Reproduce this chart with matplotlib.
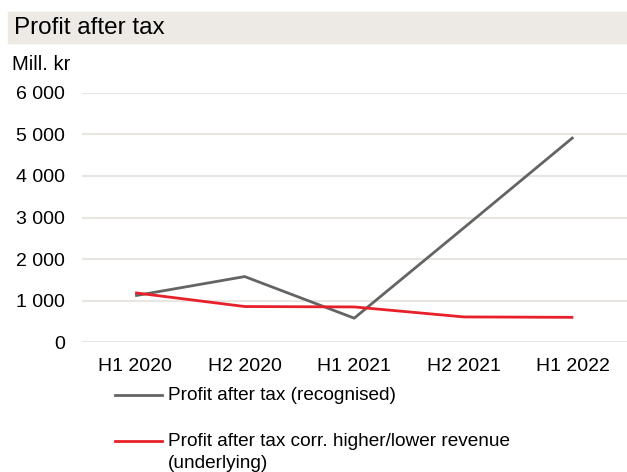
import matplotlib.pyplot as plt
from matplotlib.lines import Line2D
from matplotlib.patches import Rectangle
from matplotlib.ticker import FuncFormatter

plt.rcParams['font.family'] = ['Liberation Sans', 'DejaVu Sans']

# data
periods = ["H1 2020", "H2 2020", "H1 2021", "H2 2021", "H1 2022"]
recognised = [1120, 1580, 580, 2750, 4930]
underlying = [1190, 860, 850, 610, 600]
y_ticks = [0, 1000, 2000, 3000, 4000, 5000, 6000]

W, H = 627, 472
fig = plt.figure(figsize=(W / 100, H / 100), dpi=100)

# title bar
fig.patches.append(Rectangle((8 / W, 1 - 43 / H), 1 - 8 / W, 31 / H,
                             transform=fig.transFigure, color="#ede9e5", zorder=0))
fig.text(14 / W, 1 - 28 / H, "Profit after tax", fontsize=17.5, va="center", ha="left")
fig.text(12 / W, 1 - 65 / H, "Mill. kr", fontsize=14.5, va="center", ha="left")

ax = fig.add_axes([82 / W, (H - 342.3) / H, 1 - 82 / W, (342.3 - 92.7) / H])
x = list(range(len(periods)))
ax.plot(x, recognised, color="#646464", lw=2.0, solid_capstyle="butt")
ax.plot(x, underlying, color="#e8202a", lw=2.0, solid_capstyle="butt")

ax.set_ylim(0, 6000)
ax.set_xlim(-0.485, 4.49)
ax.set_yticks(y_ticks)
ax.yaxis.set_major_formatter(FuncFormatter(lambda v, p: f"{int(v):,}".replace(",", " ")))
ax.set_xticks(x)
ax.set_xticklabels(periods)
ax.tick_params(axis="both", length=0, labelsize=14)
ax.tick_params(axis="y", pad=12)
ax.tick_params(axis="x", pad=11)
ax.grid(axis="y", color="#e9e5e1", lw=1.5)
ax.set_axisbelow(True)
for s in ax.spines.values():
    s.set_visible(False)

# legend drawn manually below the axis
fig.lines.append(Line2D([115 / W, 162 / W], [1 - 395 / H] * 2, color="#646464", lw=2,
                        transform=fig.transFigure))
fig.text(168 / W, 1 - 395 / H, "Profit after tax (recognised)", fontsize=13.7, va="center")
fig.lines.append(Line2D([115 / W, 162 / W], [1 - 441 / H] * 2, color="#e8202a", lw=2,
                        transform=fig.transFigure))
fig.text(168 / W, 1 - 441 / H, "Profit after tax corr. higher/lower revenue", fontsize=13.7, va="center")
fig.text(168 / W, 1 - 463 / H, "(underlying)", fontsize=13.7, va="center")

fig.savefig("out.png", dpi=100)
